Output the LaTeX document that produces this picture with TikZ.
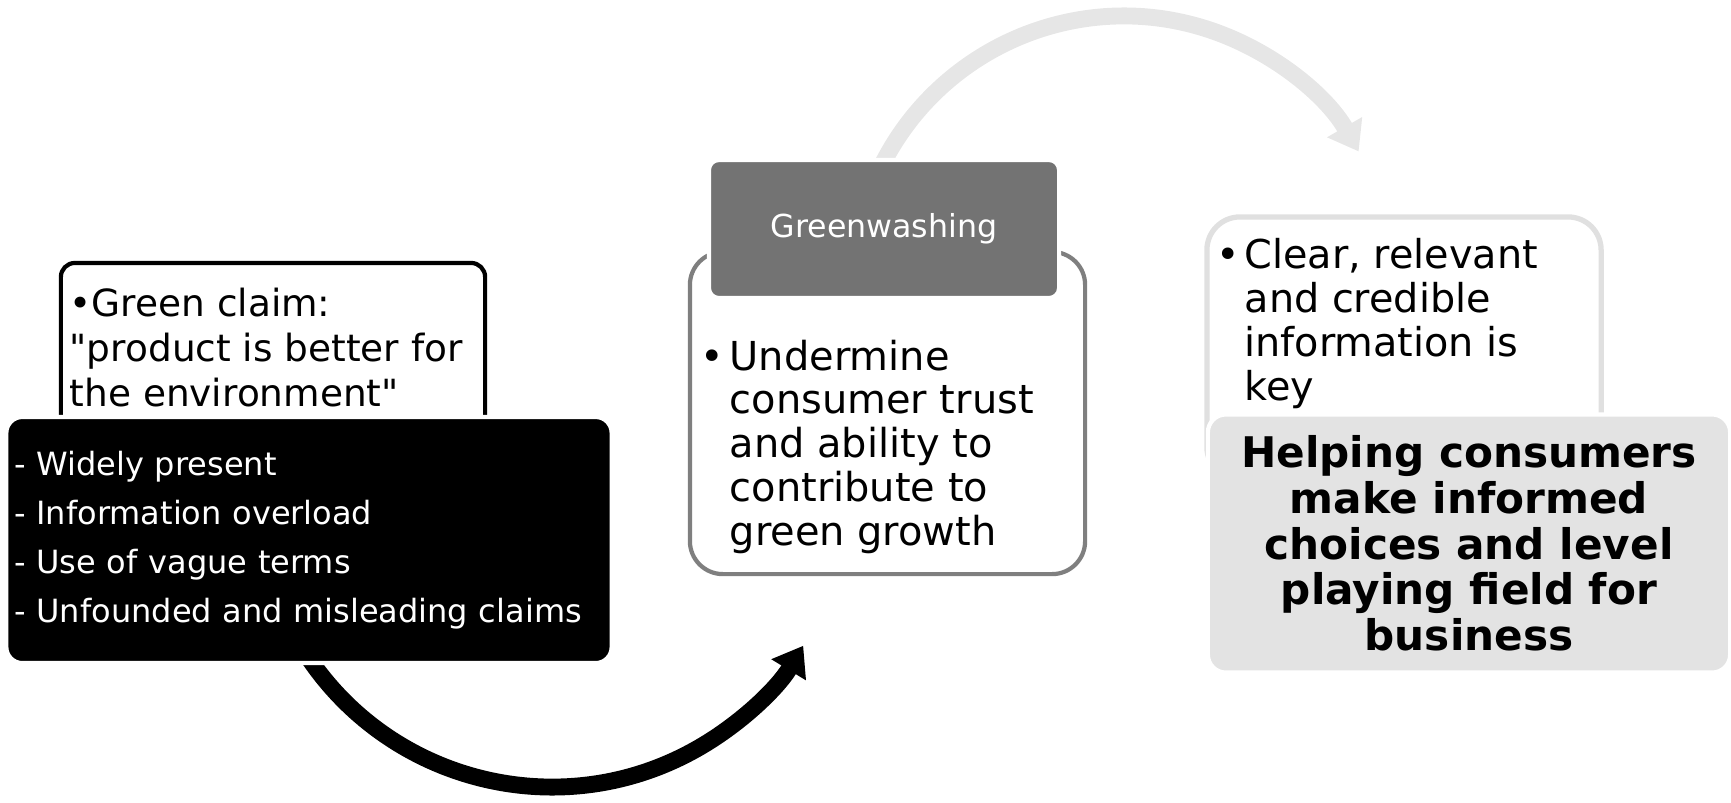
\documentclass[tikz,border=0pt]{standalone}
\usepackage{fontspec}
\setmainfont{DejaVu Sans}[Ligatures=TeXOff]
\usepackage{tikz}
\usetikzlibrary{arrows.meta,backgrounds}
\definecolor{washgray}{RGB}{115,115,115}
\definecolor{trustline}{RGB}{127,127,127}
\definecolor{infoline}{RGB}{224,224,224}
\definecolor{helpfill}{RGB}{227,227,227}
\definecolor{arcgray}{RGB}{230,230,230}

\begin{document}
\begin{tikzpicture}[
  x=0.01cm, y=-0.01cm,
  bodytext/.style={anchor=north west, inner sep=0pt, align=left},
  framebox/.style={draw, fill=white, line width=1.2pt, inner sep=0pt},
  coverbox/.style={draw=white, line width=1.2pt, inner sep=0pt},
  bigarc/.style={line width=4.8pt, -{Triangle[width=11pt,length=8pt]}}
]
\useasboundingbox (0,0) rectangle (1731,802);

\node[framebox, draw=black, rounded corners=0.14cm, minimum width=4.24cm, minimum height=2.05cm] (claim) at (273,365.5) {};
\node[bodytext, font=\fontsize{10.65}{12.8}\selectfont] (claimtext) at (69,287) {•Green claim:\\"product is better for\\the environment"};
\node[coverbox, fill=black, text=white, rounded corners=0.16cm, minimum width=6.05cm, minimum height=2.46cm,
      text width=5.89cm, inner xsep=0.08cm, align=left, font=\fontsize{9.1}{13.95}\selectfont] (issues) at (309,540)
  {- Widely present\\- Information overload\\- Use of vague terms\\- Unfounded and misleading claims};

\node[framebox, draw=trustline, rounded corners=0.33cm, minimum width=3.95cm, minimum height=3.22cm] (trust) at (887.5,413) {};
\node[coverbox, fill=washgray, text=white, rounded corners=0.1cm, minimum width=3.5cm, minimum height=1.38cm,
      font=\fontsize{9}{11}\selectfont] (wash) at (884,229) {Greenwashing};
\node[bodytext, font=\fontsize{11.35}{12.45}\selectfont] (trusttext) at (729,339)
  {\llap{•\hspace{1.5pt}}Undermine\\consumer trust\\and ability to\\contribute to\\green growth};

\node[framebox, draw=infoline, line width=1.5pt, rounded corners=0.33cm, minimum width=3.94cm, minimum height=2.63cm] (info) at (1404,348.5) {};
\node[bodytext, font=\fontsize{11.3}{12.5}\selectfont] (infotext) at (1244,238)
  {\llap{•\hspace{1.5pt}}Clear, relevant\\and credible\\information is\\key};
\node[coverbox, fill=helpfill, rounded corners=0.18cm, minimum width=5.22cm, minimum height=2.58cm, align=center,
      font=\fontsize{12}{13}\selectfont\bfseries] (help) at (1469,543.5)
  {Helping consumers\\make informed\\choices and level\\playing field for\\business};

\begin{scope}[on background layer]
\coordinate (blackfoot) at (297.4,640);
\coordinate (grayfoot) at (869.3,194.3);
\draw[bigarc, black] (blackfoot) arc[start angle=150, end angle=31.3, radius=294];
\draw[bigarc, arcgray] (grayfoot) arc[start angle=200, end angle=330, radius=271];
\end{scope}
\end{tikzpicture}
\end{document}
